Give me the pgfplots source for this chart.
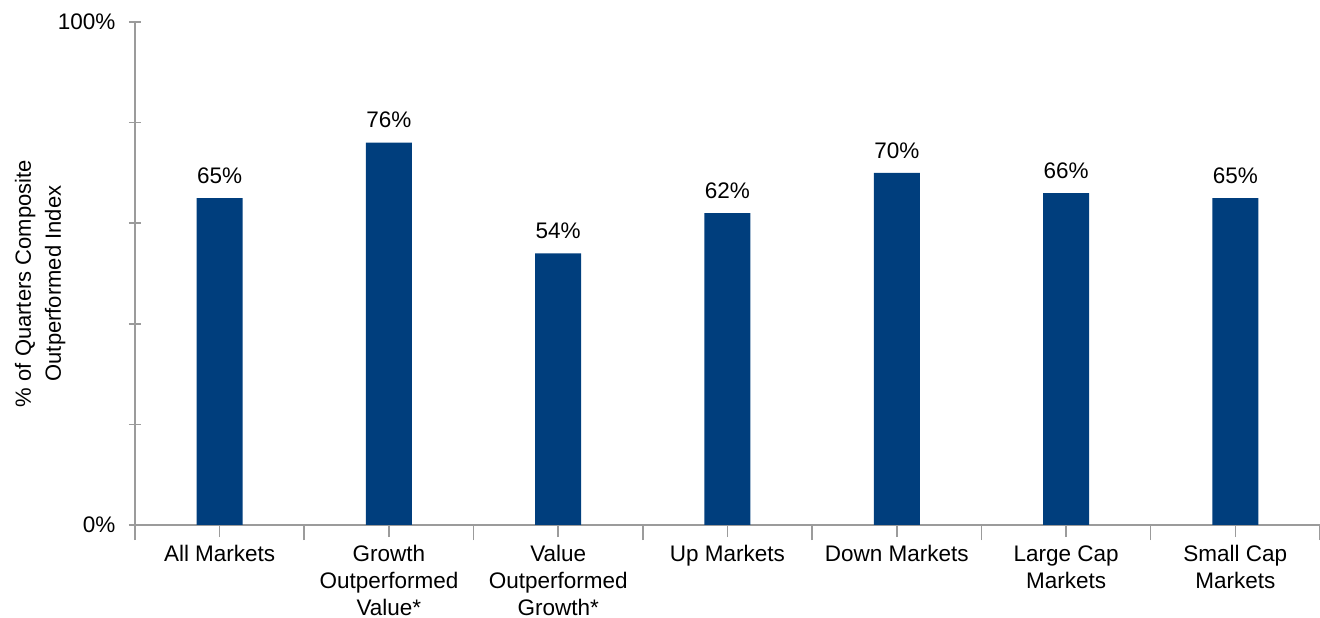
\documentclass[border=0pt]{standalone}
\usepackage{fontspec}
\setmainfont{Liberation Sans}
\usepackage{pgfplots}
\pgfplotsset{compat=1.18}
\definecolor{barblue}{RGB}{0,62,125}
\definecolor{axisgray}{RGB}{155,155,155}
\begin{document}
\begin{tikzpicture}
\useasboundingbox (0,0) rectangle (1320pt,618pt);
\begin{axis}[
  at={(135pt,93pt)}, anchor=south west,
  scale only axis, width=1185pt, height=503pt,
  ymin=0, ymax=100,
  xmin=-0.5, xmax=6.5,
  axis lines=left,
  axis line style={axisgray, line width=1.6pt, -},
  ytick={0,20,40,60,80,100},
  yticklabels={0\%,,,,,100\%},
  xtick={0,...,6},
  xticklabels={All Markets, Growth\\Outperformed\\Value*, Value\\Outperformed\\Growth*, Up Markets, Down Markets, Large Cap\\Markets, Small Cap\\Markets},
  minor xtick={-0.5,0.5,...,6.5},
  tick align=center,
  major tick length=12pt, minor tick length=15pt,
  tick style={axisgray, line width=1.6pt},
  minor tick style={axisgray, line width=1.6pt},
  ticklabel style={font=\fontsize{22.5}{27}\selectfont},
  xticklabel style={align=center, anchor=north, yshift=-5pt},
  yticklabel style={xshift=-10pt},
  ylabel={\% of Quarters Composite\\Outperformed Index},
  ylabel style={at={(axis description cs:-0.08,0.48)}, anchor=center, align=center, font=\fontsize{22}{30}\selectfont},
  /pgf/number format/assume math mode=true,
  ybar, bar width=46pt,
  nodes near coords={\pgfmathprintnumber{\pgfplotspointmeta}\%},
  nodes near coords style={font=\fontsize{22.5}{27}\selectfont, black, yshift=11pt},
  clip=false,
]
\addplot[fill=barblue, draw=none] coordinates {(0,65) (1,76) (2,54) (3,62) (4,70) (5,66) (6,65)};
\end{axis}
\end{tikzpicture}
\end{document}
